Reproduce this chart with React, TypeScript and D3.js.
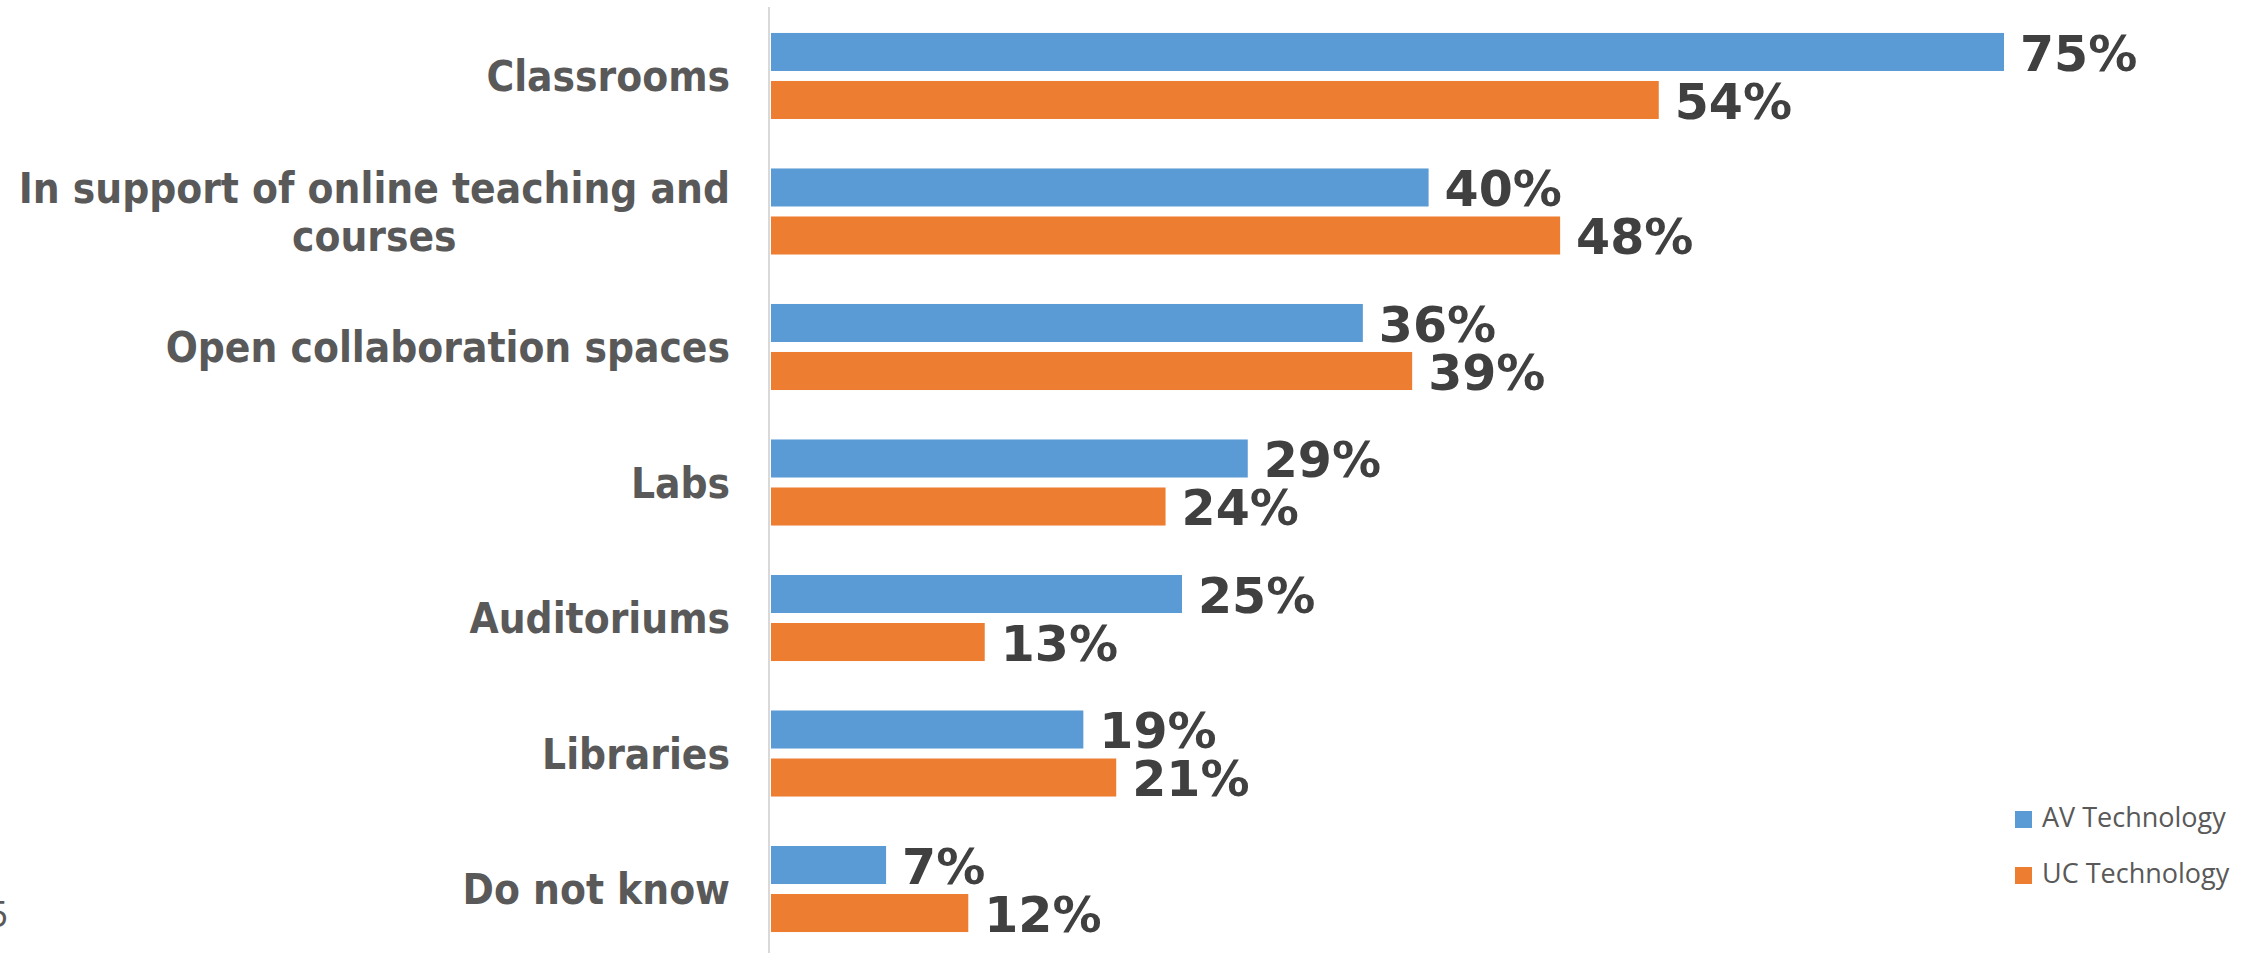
import React, { useEffect, useRef } from "react";
import * as d3 from "d3";

const categories = [
  ["Classrooms"],
  ["In support of online teaching and", "courses"],
  ["Open collaboration spaces"],
  ["Labs"],
  ["Auditoriums"],
  ["Libraries"],
  ["Do not know"],
];
const seriesNames = ["AV Technology", "UC Technology"];
const avValues = [75, 40, 36, 29, 25, 19, 7];
const ucValues = [54, 48, 39, 24, 13, 21, 12];
const seriesColors = ["#5B9BD5", "#ED7D31"];

const W = 2259;
const H = 953;

export default function App() {
  const ref = useRef<SVGSVGElement>(null);

  useEffect(() => {
    const svg = d3.select(ref.current);
    svg.selectAll("*").remove();

    const keys = categories.map((c) => c.join(" "));
    const x = d3.scaleLinear().domain([0, 75]).range([771, 2004]);
    const y = d3
      .scaleBand<string>()
      .domain(keys)
      .range([-16.5, 981.5])
      .paddingInner(0.365)
      .paddingOuter(0.365);
    const sub = d3
      .scaleBand<string>()
      .domain(seriesNames)
      .range([0, y.bandwidth()])
      .paddingInner(0.208);

    const data = keys.map((k, i) => ({ key: k, lines: categories[i], vals: [avValues[i], ucValues[i]] }));

    // axis line
    svg
      .append("line")
      .attr("x1", 769)
      .attr("x2", 769)
      .attr("y1", 7)
      .attr("y2", H)
      .attr("stroke", "#d9d9d9")
      .attr("stroke-width", 2);

    const g = svg
      .selectAll("g.cat")
      .data(data)
      .enter()
      .append("g")
      .attr("class", "cat")
      .attr("transform", (d) => `translate(0,${y(d.key)})`);

    seriesNames.forEach((s, si) => {
      g.append("rect")
        .attr("x", x(0))
        .attr("y", sub(s)!)
        .attr("width", (d) => x(d.vals[si]) - x(0))
        .attr("height", sub.bandwidth())
        .attr("fill", seriesColors[si]);
      g.append("text")
        .attr("x", (d) => x(d.vals[si]) + 16)
        .attr("y", sub(s)! + sub.bandwidth() / 2 + 0.38 * 49)
        .attr("font-family", "'DejaVu Sans', sans-serif")
        .attr("font-weight", "bold")
        .attr("font-size", 49)
        .attr("fill", "#404040")
        .text((d) => `${d.vals[si]}%`);
    });

    // category labels
    const fs = 42;
    const lh = 48;
    const labelRight = 730;
    g.each(function (d) {
      const cg = d3.select(this);
      const cy = y.bandwidth() / 2;
      const n = d.lines.length;
      const texts = d.lines.map((line, li) => {
        return cg
          .append("text")
          .attr("y", cy + (li - (n - 1) / 2) * lh + 0.36 * fs)
          .attr("font-family", "'DejaVu Sans Condensed', 'DejaVu Sans', sans-serif")
          .style("font-stretch", "condensed")
          .attr("font-weight", "bold")
          .attr("font-size", fs)
          .attr("fill", "#595959")
          .text(line);
      });
      if (n === 1) {
        texts[0].attr("x", labelRight).attr("text-anchor", "end");
      } else {
        const widths = texts.map((t) => (t.node() as SVGTextElement).getComputedTextLength());
        const maxW = Math.max(...widths);
        const cx = labelRight - maxW / 2;
        texts.forEach((t) => t.attr("x", cx).attr("text-anchor", "middle"));
      }
    });

    // legend
    const leg = svg
      .selectAll("g.leg")
      .data(seriesNames)
      .enter()
      .append("g")
      .attr("class", "leg")
      .attr("transform", (_d, i) => `translate(2015,${811 + i * 56})`);
    leg
      .append("rect")
      .attr("width", 17)
      .attr("height", 17)
      .attr("fill", (_d, i) => seriesColors[i]);
    leg
      .append("text")
      .attr("x", 27)
      .attr("y", 16)
      .attr("font-family", "'Open Sans', sans-serif")
      .attr("font-size", 27)
      .attr("fill", "#595959")
      .text((d) => d);

    // clipped page number at the left edge
    svg
      .append("text")
      .attr("x", 8)
      .attr("y", 927)
      .attr("text-anchor", "end")
      .attr("font-family", "'Open Sans', sans-serif")
      .attr("font-size", 36)
      .attr("fill", "#595959")
      .text("5");
  }, []);

  return (
    <svg
      ref={ref}
      width={W}
      height={H}
      viewBox={`0 0 ${W} ${H}`}
      style={{ position: "absolute", left: 0, top: 0, background: "#ffffff" }}
    />
  );
}
